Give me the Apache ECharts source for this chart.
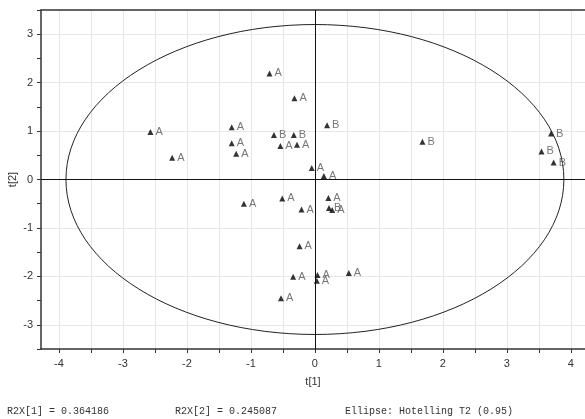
<!DOCTYPE html>
<html>
<head>
<meta charset="utf-8">
<script src="https://cdn.jsdelivr.net/npm/echarts@6/dist/echarts.min.js"></script>
<style>
  html, body { margin: 0; padding: 0; background: #fff; }
  #chart { width: 585px; height: 419px; }
</style>
</head>
<body>
<div id="chart"></div>
<script>
// score values t[1], t[2] and class of each observation
const t1 = [-2.57, -2.23, -0.71, -0.32, 0.19, -1.30, -0.64, -0.33, -1.30, -0.54,
            -0.28, -1.23, -0.05, 0.14, 1.68, 3.69, 3.54, 3.73, -1.11, -0.51,
            0.21, 0.22, 0.27, -0.21, -0.24, -0.34, 0.04, 0.03, 0.53, -0.53]
const t2 = [0.98, 0.45, 2.19, 1.68, 1.12, 1.08, 0.92, 0.92, 0.75, 0.69,
            0.72, 0.53, 0.24, 0.07, 0.78, 0.95, 0.58, 0.35, -0.50, -0.39,
            -0.38, -0.59, -0.63, -0.62, -1.38, -2.01, -1.97, -2.09, -1.93, -2.45]
const groups = ['A', 'A', 'A', 'A', 'B', 'A', 'B', 'B', 'A', 'A',
                'A', 'A', 'A', 'A', 'B', 'B', 'B', 'B', 'A', 'A',
                'A', 'B', 'A', 'A', 'A', 'A', 'A', 'A', 'A', 'A']

// tick positions and labels
const xTicks = [-4, -3.5, -3, -2.5, -2, -1.5, -1, -0.5, 0, 0.5, 1, 1.5, 2, 2.5, 3, 3.5, 4]
const xLabels = [-4, -3, -2, -1, 0, 1, 2, 3, 4]
const yTicks = [-3.5, -3, -2.5, -2, -1.5, -1, -0.5, 0, 0.5, 1, 1.5, 2, 2.5, 3, 3.5]
const yLabels = [-3, -2, -1, 0, 1, 2, 3]

// Hotelling T2 ellipse: centre x, centre y, semi-axis x, semi-axis y
const ellipse = [0, 0, 3.89, 3.2]

const footer = ['R2X[1] = 0.364186', 'R2X[2] = 0.245087', 'Ellipse: Hotelling T2 (0.95)']

const font = 'Liberation Sans, Arial, sans-serif'
const mono = 'Liberation Mono, Courier New, monospace'
const axisColor = '#333'
const gridColor = '#e6e6e6'

const chart = echarts.init(document.getElementById('chart'))

chart.setOption({
  animation: false,
  backgroundColor: '#fff',
  grid: { left: 41, top: 10, right: 0, bottom: 70, outerBoundsMode: 'none', containLabel: false },
  xAxis: [
    {
      type: 'value',
      min: -4.28,
      max: 4.22,
      name: 't[1]',
      nameLocation: 'middle',
      nameGap: 27,
      nameTextStyle: { color: '#333', fontSize: 11, fontFamily: font },
      axisLine: { show: true, onZero: false, lineStyle: { color: axisColor, width: 1.5 } },
      axisTick: { show: true, customValues: xTicks, length: 4, lineStyle: { color: axisColor } },
      axisLabel: { customValues: xLabels, color: '#333', fontSize: 11, fontFamily: font, margin: 9 },
      splitLine: { show: true, lineStyle: { color: gridColor, width: 1 } }
    },
    {
      type: 'value',
      position: 'top',
      min: -4.28,
      max: 4.22,
      axisLine: { show: true, onZero: false, lineStyle: { color: axisColor, width: 1.5 } },
      axisTick: { show: false },
      axisLabel: { show: false },
      splitLine: { show: false }
    }
  ],
  yAxis: [
    {
      type: 'value',
      min: -3.5,
      max: 3.5,
      name: 't[2]',
      nameLocation: 'middle',
      nameGap: 23,
      nameRotate: 90,
      nameMoveOverlap: false,
      nameTextStyle: { color: '#333', fontSize: 11, fontFamily: font },
      axisLine: { show: true, onZero: false, lineStyle: { color: axisColor, width: 1.5 } },
      axisTick: { show: true, customValues: yTicks, length: 4, lineStyle: { color: axisColor } },
      axisLabel: { customValues: yLabels, color: '#333', fontSize: 11, fontFamily: font, margin: 8 },
      splitLine: { show: false }
    },
    {
      type: 'value',
      position: 'left',
      min: -3.5,
      max: 3.5,
      axisLine: { show: false },
      axisTick: { show: false, customValues: yLabels },
      axisLabel: { show: false },
      splitLine: { show: true, lineStyle: { color: gridColor, width: 1 } }
    }
  ],
  series: [
    {
      type: 'custom',
      silent: true,
      z: 3,
      data: [ellipse],
      encode: { x: 0, y: 1 },
      renderItem: (params, api) => {
        const c = api.coord([api.value(0), api.value(1)])
        const s = api.size([api.value(2), api.value(3)])
        return {
          type: 'ellipse',
          shape: { cx: c[0], cy: c[1], rx: s[0], ry: s[1] },
          style: { fill: null, stroke: '#222', lineWidth: 1 }
        }
      }
    },
    {
      type: 'scatter',
      z: 4,
      symbol: 'triangle',
      symbolSize: [6, 6],
      itemStyle: { color: '#000' },
      data: t1.map((x, i) => [x, t2[i], groups[i]]),
      label: {
        show: true,
        position: 'right',
        distance: 2,
        formatter: p => p.value[2],
        color: '#555',
        fontSize: 11,
        fontFamily: font
      },
      markLine: {
        silent: true,
        symbol: 'none',
        label: { show: false },
        lineStyle: { color: '#111', width: 1, type: 'solid' },
        data: [{ xAxis: 0 }, { yAxis: 0 }]
      }
    }
  ],
  graphic: [
    { type: 'text', left: 7, top: 406, style: { text: footer[0], fontFamily: mono, fontSize: 10, fill: '#333' } },
    { type: 'text', left: 175, top: 406, style: { text: footer[1], fontFamily: mono, fontSize: 10, fill: '#333' } },
    { type: 'text', left: 345, top: 406, style: { text: footer[2], fontFamily: mono, fontSize: 10, fill: '#333' } }
  ]
})
</script>
</body>
</html>
